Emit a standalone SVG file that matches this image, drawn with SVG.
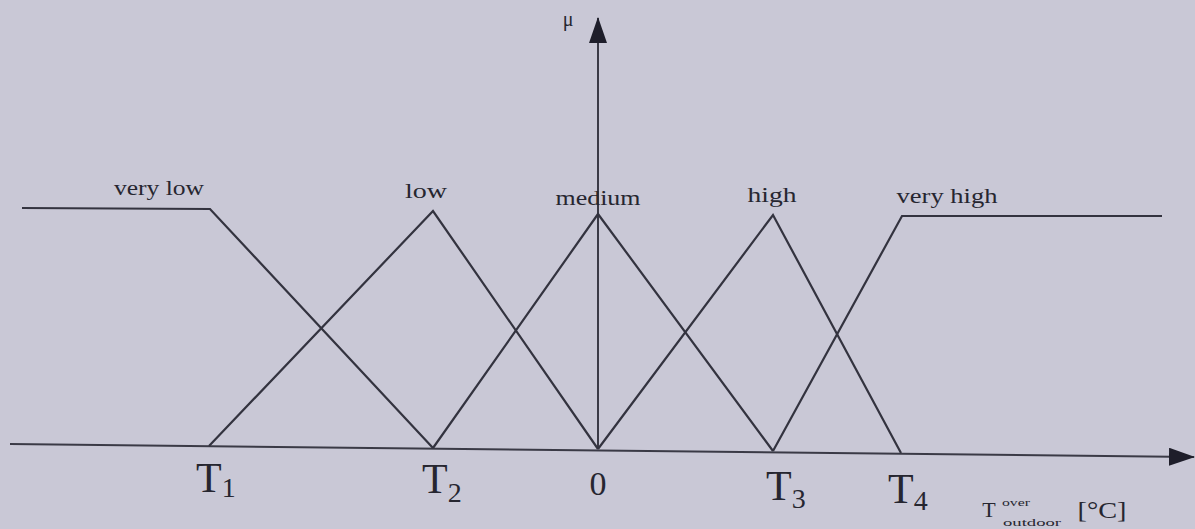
<svg xmlns="http://www.w3.org/2000/svg" width="1195" height="529" viewBox="0 0 1195 529">
<style>
.ln{fill:none;stroke:#33333f;stroke-width:2.2;stroke-linejoin:miter}
.ax{fill:none;stroke:#3a3a46;stroke-width:2}
.lb{font-family:"Liberation Serif",serif;fill:#262630;font-size:21px;text-anchor:middle}
.tk{font-family:"Liberation Serif",serif;fill:#262630;font-size:42px}
.sb{font-size:28px}
</style>
<defs>
<marker id="arrB" viewBox="0 0 26 18" refX="25" refY="9" markerWidth="26" markerHeight="18" markerUnits="userSpaceOnUse" orient="auto">
<path d="M0,0 L26,9 L0,18 Z" fill="#1e1e2a"/>
</marker>
</defs>
<rect width="1195" height="529" fill="#c9c8d6"/>
<g id="connectors">
<line class="ax" x1="10" y1="444" x2="1194" y2="457" marker-end="url(#arrB)"/>
<line class="ax" x1="598" y1="448" x2="598" y2="18" marker-end="url(#arrB)"/>
</g>
<g id="very-low">
<polyline class="ln" points="22,208 210,209 433,448"/>
<text class="lb" x="159" y="195" textLength="90" lengthAdjust="spacingAndGlyphs">very low</text>
</g>
<g id="low">
<polyline class="ln" points="209,446 433,211 598,449"/>
<text class="lb" x="426" y="198" textLength="42" lengthAdjust="spacingAndGlyphs">low</text>
</g>
<g id="medium">
<polyline class="ln" points="433,448 598,214 773,451"/>
<text class="lb" x="598" y="205" textLength="85" lengthAdjust="spacingAndGlyphs">medium</text>
</g>
<g id="high">
<polyline class="ln" points="598,449 773,215 901,453"/>
<text class="lb" x="772" y="202" textLength="49" lengthAdjust="spacingAndGlyphs">high</text>
</g>
<g id="very-high">
<polyline class="ln" points="773,451 902,216 1162,216"/>
<text class="lb" x="947" y="203" textLength="101" lengthAdjust="spacingAndGlyphs">very high</text>
</g>
<g id="mu">
<text class="lb" x="568" y="26" style="font-size:20px">μ</text>
</g>
<g id="ticks">
<text class="tk" x="196" y="492">T<tspan class="sb" dy="5">1</tspan></text>
<text class="tk" x="422" y="493">T<tspan class="sb" dy="9">2</tspan></text>
<text class="tk" x="598" y="495" style="font-size:34px;text-anchor:middle">0</text>
<text class="tk" x="766" y="500">T<tspan class="sb" dy="8">3</tspan></text>
<text class="tk" x="888" y="503">T<tspan class="sb" dy="7">4</tspan></text>
</g>
<g id="x-label">
<text class="lb" x="989" y="517" style="font-size:22px">T</text>
<text class="lb" x="1016" y="506" style="font-size:10px" textLength="28" lengthAdjust="spacingAndGlyphs">over</text>
<text class="lb" x="1032" y="526" style="font-size:10px" textLength="58" lengthAdjust="spacingAndGlyphs">outdoor</text>
<text class="lb" x="1102" y="518" style="font-size:23px" textLength="49" lengthAdjust="spacingAndGlyphs">[°C]</text>
</g>
</svg>
